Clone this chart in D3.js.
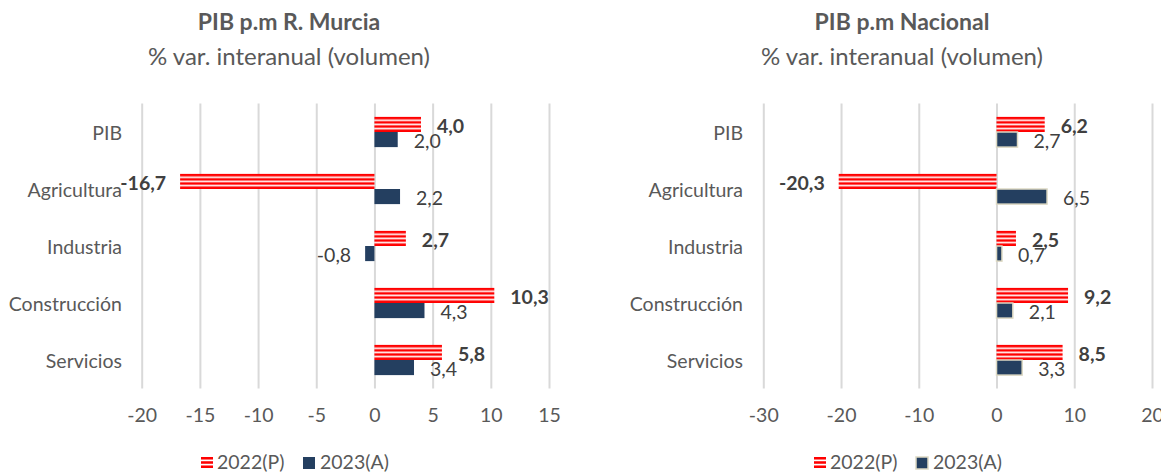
<!DOCTYPE html>
<html>
<head>
<meta charset="utf-8">
<script src="https://cdn.jsdelivr.net/npm/d3@7"></script>
<style>
  html, body { margin: 0; padding: 0; background: #ffffff; }
  svg { display: block; }
  text { font-family: Lato, "Open Sans", sans-serif; }
</style>
</head>
<body>
<script>
// ---- data ----
const categories = ["PIB", "Agricultura", "Industria", "Construcción", "Servicios"];
const seriesNames = ["2022(P)", "2023(A)"];
const murcia2022 = [4.0, -16.7, 2.7, 10.3, 5.8];
const murcia2023 = [2.0, 2.2, -0.8, 4.3, 3.4];
const nacional2022 = [6.2, -20.3, 2.5, 9.2, 8.5];
const nacional2023 = [2.7, 6.5, 0.7, 2.1, 3.3];
const murciaTicks = [-20, -15, -10, -5, 0, 5, 10, 15];
const nacionalTicks = [-30, -20, -10, 0, 10, 20];
const titles = ["PIB p.m R. Murcia", "PIB p.m Nacional"];
const subtitle = "% var. interanual (volumen)";

// ---- setup ----
const W = 1161, H = 473;
const FS = 19.5;
const textColor = "#595959";
const labelColor = "#404040";
const blue = "#243F60";
const red = "#FF0000";
const locale = d3.formatLocale({decimal: ",", thousands: ".", grouping: [3], currency: ["", "€"], minus: "-"});
const fmtVal = locale.format(".1f");
const fmtTick = locale.format("d");

const svg = d3.select("body").append("svg").attr("width", W).attr("height", H);
const defs = svg.append("defs");

function stripePattern(id, stripes) {
  const p = defs.append("pattern").attr("id", id)
    .attr("patternUnits", "objectBoundingBox")
    .attr("patternContentUnits", "objectBoundingBox")
    .attr("x", 0).attr("y", 0).attr("width", 1).attr("height", 1);
  p.append("rect").attr("x", 0).attr("y", 0).attr("width", 1).attr("height", 1).attr("fill", "#ffffff");
  const period = 1 / (stripes - 0.4);
  for (let i = 0; i < stripes; i++) {
    p.append("rect").attr("x", 0).attr("y", i * period).attr("width", 1)
      .attr("height", period * 0.6).attr("fill", red);
  }
}
stripePattern("stripesBar", 4);
stripePattern("stripesLegend", 3);

const y = d3.scaleBand().domain(categories).range([103.5, 388.5]).paddingInner(0.47).paddingOuter(0.235);
const sub = d3.scaleBand().domain([0, 1]).range([0, y.bandwidth()]);

const panels = [
  {title: titles[0], s22: murcia2022, s23: murcia2023, ticks: murciaTicks, domain: [-20, 15], range: [141.7, 549], cx: 289, catX: 122, border: false,
   legend: [201, 303]},
  {title: titles[1], s22: nacional2022, s23: nacional2023, ticks: nacionalTicks, domain: [-30, 20], range: [763.3, 1152], cx: 902, catX: 743, border: true,
   legend: [814, 916]}
];

panels.forEach(p => {
  const g = svg.append("g");
  const x = d3.scaleLinear().domain(p.domain).range(p.range);

  // titles
  g.append("text").attr("x", p.cx).attr("y", 22).attr("dy", "0.35em").attr("text-anchor", "middle")
    .attr("font-size", 23).attr("font-weight", "bold").attr("fill", textColor).text(p.title);
  g.append("text").attr("x", p.cx).attr("y", 57).attr("dy", "0.35em").attr("text-anchor", "middle")
    .attr("font-size", 24).attr("fill", textColor).text(subtitle);

  // axis with gridlines
  const axis = g.append("g").attr("transform", `translate(0,${388.5})`)
    .call(d3.axisBottom(x).tickValues(p.ticks).tickFormat(fmtTick).tickSize(-285).tickPadding(20));
  axis.select(".domain").remove();
  axis.selectAll(".tick line").attr("stroke", "#d9d9d9").attr("stroke-width", 2);
  axis.selectAll(".tick text").attr("fill", textColor).attr("font-size", FS)
    .style("font-family", "Lato, 'Open Sans', sans-serif");

  // category labels
  g.selectAll(".cat").data(categories).enter().append("text")
    .attr("x", p.catX).attr("y", d => y(d) + y.bandwidth() / 2 + 1)
    .attr("dy", "0.35em").attr("text-anchor", "end")
    .attr("font-size", FS).attr("fill", textColor).text(d => d);

  const series = [
    {vals: p.s22, i: 0, fill: "url(#stripesBar)", bold: true},
    {vals: p.s23, i: 1, fill: blue, bold: false}
  ];
  series.forEach(s => {
    const data = categories.map((c, k) => ({c, v: s.vals[k]}));
    g.selectAll(null).data(data).enter().append("rect")
      .attr("x", d => x(Math.min(0, d.v)))
      .attr("y", d => y(d.c) + sub(s.i))
      .attr("width", d => Math.abs(x(d.v) - x(0)))
      .attr("height", sub.bandwidth())
      .attr("fill", s.fill)
      .attr("stroke", (s.i === 1 && p.border) ? "#ddd9c3" : "none")
      .attr("stroke-width", 1.5);
    g.selectAll(null).data(data).enter().append("text")
      .attr("x", d => d.v >= 0 ? x(d.v) + 16 : x(d.v) - 14)
      .attr("y", d => y(d.c) + sub(s.i) + sub.bandwidth() / 2 + 1.5)
      .attr("dy", "0.35em")
      .attr("text-anchor", d => d.v >= 0 ? "start" : "end")
      .attr("font-size", FS)
      .attr("font-weight", s.bold ? "bold" : "normal")
      .attr("fill", labelColor)
      .text(d => fmtVal(d.v));
  });

  // legend
  const lg = g.append("g");
  lg.append("rect").attr("x", p.legend[0]).attr("y", 457).attr("width", 12).attr("height", 11)
    .attr("fill", "url(#stripesLegend)");
  lg.append("text").attr("x", p.legend[0] + 16).attr("y", 462).attr("dy", "0.35em")
    .attr("font-size", FS).attr("fill", textColor).text(seriesNames[0]);
  lg.append("rect").attr("x", p.legend[1]).attr("y", 457).attr("width", 12).attr("height", 12)
    .attr("fill", blue)
    .attr("stroke", p.border ? "#ddd9c3" : "none").attr("stroke-width", 1.5);
  lg.append("text").attr("x", p.legend[1] + 17).attr("y", 462).attr("dy", "0.35em")
    .attr("font-size", FS).attr("fill", textColor).text(seriesNames[1]);
});
</script>
</body>
</html>
